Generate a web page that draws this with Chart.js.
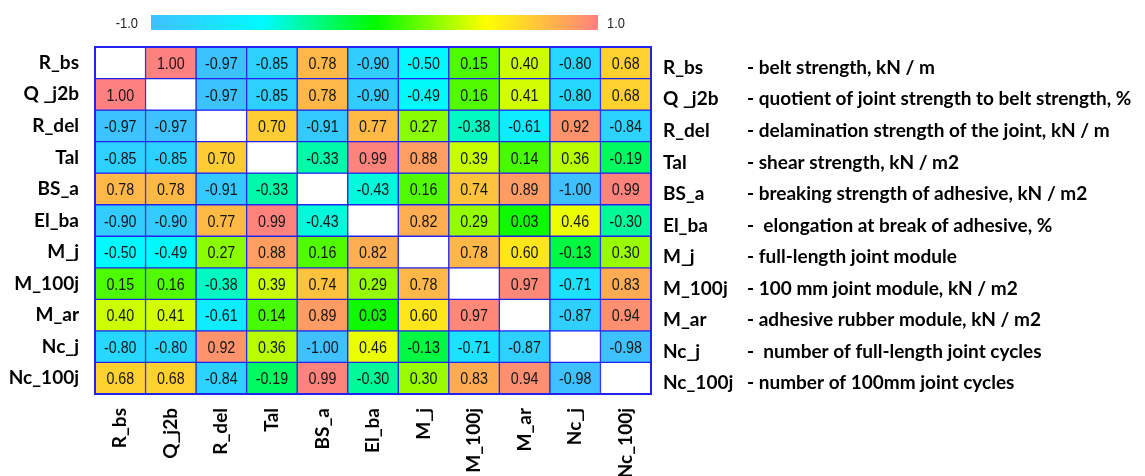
<!DOCTYPE html>
<html>
<head>
<meta charset="utf-8">
<script src="https://cdn.jsdelivr.net/npm/chart.js@4/dist/chart.umd.min.js"></script>
<style>
  html, body { margin: 0; padding: 0; background: #ffffff; }
  #wrap { width: 1145px; height: 476px; position: relative; }
</style>
</head>
<body>
<div id="wrap"><canvas id="heat" width="1145" height="476"></canvas></div>
<script>
// Variable names: rows (left) and columns (bottom)
const rowLabels = ['R_bs', 'Q _j2b', 'R_del', 'Tal', 'BS_a', 'El_ba', 'M_j', 'M_100j', 'M_ar', 'Nc_j', 'Nc_100j'];
const colLabels = ['R_bs', 'Q_j2b', 'R_del', 'Tal', 'BS_a', 'El_ba', 'M_j', 'M_100j', 'M_ar', 'Nc_j', 'Nc_100j'];

// Correlation coefficients, one array per row (diagonal left empty)
const r_bs    = [null,  1.00, -0.97, -0.85,  0.78, -0.90, -0.50,  0.15,  0.40, -0.80,  0.68];
const q_j2b   = [ 1.00, null, -0.97, -0.85,  0.78, -0.90, -0.49,  0.16,  0.41, -0.80,  0.68];
const r_del   = [-0.97, -0.97, null,  0.70, -0.91,  0.77,  0.27, -0.38, -0.61,  0.92, -0.84];
const tal     = [-0.85, -0.85,  0.70, null, -0.33,  0.99,  0.88,  0.39,  0.14,  0.36, -0.19];
const bs_a    = [ 0.78,  0.78, -0.91, -0.33, null, -0.43,  0.16,  0.74,  0.89, -1.00,  0.99];
const el_ba   = [-0.90, -0.90,  0.77,  0.99, -0.43, null,  0.82,  0.29,  0.03,  0.46, -0.30];
const m_j     = [-0.50, -0.49,  0.27,  0.88,  0.16,  0.82, null,  0.78,  0.60, -0.13,  0.30];
const m_100j  = [ 0.15,  0.16, -0.38,  0.39,  0.74,  0.29,  0.78, null,  0.97, -0.71,  0.83];
const m_ar    = [ 0.40,  0.41, -0.61,  0.14,  0.89,  0.03,  0.60,  0.97, null, -0.87,  0.94];
const nc_j    = [-0.80, -0.80,  0.92,  0.36, -1.00,  0.46, -0.13, -0.71, -0.87, null, -0.98];
const nc_100j = [ 0.68,  0.68, -0.84, -0.19,  0.99, -0.30,  0.30,  0.83,  0.94, -0.98, null];
const matrixRows = [r_bs, q_j2b, r_del, tal, bs_a, el_ba, m_j, m_100j, m_ar, nc_j, nc_100j];

// Descriptions shown beside the matrix
const descriptions = [
  '- belt strength, kN / m',
  '- quotient of joint strength to belt strength, %',
  '- delamination strength of the joint, kN / m',
  '- shear strength, kN / m2',
  '- breaking strength of adhesive, kN / m2',
  '-  elongation at break of adhesive, %',
  '- full-length joint module',
  '- 100 mm joint module, kN / m2',
  '- adhesive rubber module, kN / m2',
  '-  number of full-length joint cycles',
  '- number of 100mm joint cycles'
];

// Colour scale: value -> colour stops, and its end labels
const scaleStops = [-1, -0.5, 0, 0.5, 1];
const scaleColors = [[64, 192, 255], [0, 250, 255], [0, 250, 0], [255, 255, 0], [255, 128, 128]];
const scaleTickLabels = ['-1.0', '1.0'];

function colorFor(v) {
  if (v === null) return '#ffffff';
  for (let i = 0; i < scaleStops.length - 1; i++) {
    const a = scaleStops[i], b = scaleStops[i + 1];
    if (v <= b || i === scaleStops.length - 2) {
      const t = Math.max(0, Math.min(1, (v - a) / (b - a)));
      const c0 = scaleColors[i], c1 = scaleColors[i + 1];
      const c = c0.map((x, k) => Math.round(x + (c1[k] - x) * t));
      return `rgb(${c[0]},${c[1]},${c[2]})`;
    }
  }
}

const N = rowLabels.length;
const LABEL_FONT = '"Lato", "Open Sans", sans-serif';
const NUM_FONT = '"Liberation Sans", Arial, sans-serif';
const GRID_BLUE = '#2323ee';

// condensed text: horizontally squeezed sans
function narrowText(ctx, text, x, y, squeeze) {
  ctx.save();
  ctx.translate(x, y);
  ctx.scale(squeeze, 1);
  ctx.fillText(text, 0, 0);
  ctx.restore();
}

// One floating-bar dataset per matrix row: each cell spans [N-1-i, N-i]
const datasets = matrixRows.map((row, i) => ({
  label: rowLabels[i],
  data: row.map(() => [N - 1 - i, N - i]),
  values: row,
  backgroundColor: row.map(colorFor),
  borderColor: GRID_BLUE,
  borderWidth: 1,
  borderSkipped: false,
  grouped: false,
  barPercentage: 1,
  categoryPercentage: 1
}));

const cellText = {
  id: 'cellText',
  afterDatasetsDraw(chart) {
    const ctx = chart.ctx;
    const a = chart.chartArea;
    ctx.save();
    // outer frame of the matrix
    ctx.strokeStyle = GRID_BLUE;
    ctx.lineWidth = 2;
    ctx.strokeRect(a.left, a.top, a.right - a.left, a.bottom - a.top);

    ctx.font = '17px ' + NUM_FONT;
    ctx.fillStyle = '#151515';
    ctx.textAlign = 'center';
    ctx.textBaseline = 'middle';
    chart.data.datasets.forEach((ds, i) => {
      const meta = chart.getDatasetMeta(i);
      meta.data.forEach((el, j) => {
        const v = ds.values[j];
        if (v === null) return;
        const p = el.getCenterPoint();
        narrowText(ctx, v.toFixed(2), p.x, p.y + 1.5, 0.84);
      });
    });
    ctx.restore();
  }
};

const sideParts = {
  id: 'sideParts',
  afterDraw(chart) {
    const ctx = chart.ctx;
    const ys = chart.scales.y;
    ctx.save();
    // colour bar
    const bx0 = 151, bx1 = 598, by0 = 15, by1 = 30;
    const grad = ctx.createLinearGradient(bx0, 0, bx1, 0);
    scaleStops.forEach((s, k) => {
      const c = scaleColors[k];
      grad.addColorStop((s + 1) / 2, `rgb(${c[0]},${c[1]},${c[2]})`);
    });
    ctx.fillStyle = grad;
    ctx.fillRect(bx0, by0, bx1 - bx0, by1 - by0);
    ctx.font = '15px ' + NUM_FONT;
    ctx.fillStyle = '#222';
    ctx.textBaseline = 'middle';
    ctx.textAlign = 'right';
    narrowText(ctx, scaleTickLabels[0], bx0 - 13, (by0 + by1) / 2 + 1, 0.86);
    ctx.textAlign = 'left';
    narrowText(ctx, scaleTickLabels[1], bx1 + 9, (by0 + by1) / 2 + 1, 0.86);

    // variable descriptions
    ctx.font = 'bold 19px ' + LABEL_FONT;
    ctx.fillStyle = '#000';
    const nameX = 663, descX = 747;
    rowLabels.forEach((name, i) => {
      const y = ys.getPixelForValue(N - i - 0.5) + 5;
      ctx.fillText(name, nameX, y);
      const w = ctx.measureText(name).width;
      ctx.fillText(descriptions[i], Math.max(descX, nameX + w + 4), y);
    });
    ctx.restore();
  }
};

new Chart(document.getElementById('heat'), {
  type: 'bar',
  data: { labels: colLabels, datasets },
  options: {
    responsive: false,
    animation: false,
    layout: { padding: { left: 0, right: 494, top: 47, bottom: 0 } },
    plugins: { legend: { display: false }, tooltip: { enabled: false } },
    scales: {
      x: {
        type: 'category',
        grid: { display: false, drawTicks: false },
        border: { display: false },
        ticks: {
          minRotation: 90, maxRotation: 90, autoSkip: false, padding: 14,
          color: '#000', font: { family: LABEL_FONT, size: 19, weight: 'bold' }
        },
        afterFit(scale) { scale.height = 82; }
      },
      y: {
        type: 'linear', min: 0, max: N,
        grid: { display: false, drawTicks: false },
        border: { display: false },
        afterBuildTicks(scale) {
          scale.ticks = rowLabels.map((_, i) => ({ value: N - i - 0.5 }));
        },
        ticks: {
          padding: 16, color: '#000', autoSkip: false,
          font: { family: LABEL_FONT, size: 19, weight: 'bold' },
          callback(value) { return rowLabels[N - 1 - Math.floor(value)]; }
        },
        afterFit(scale) { scale.width = 95; }
      }
    }
  },
  plugins: [cellText, sideParts]
});
</script>
</body>
</html>
